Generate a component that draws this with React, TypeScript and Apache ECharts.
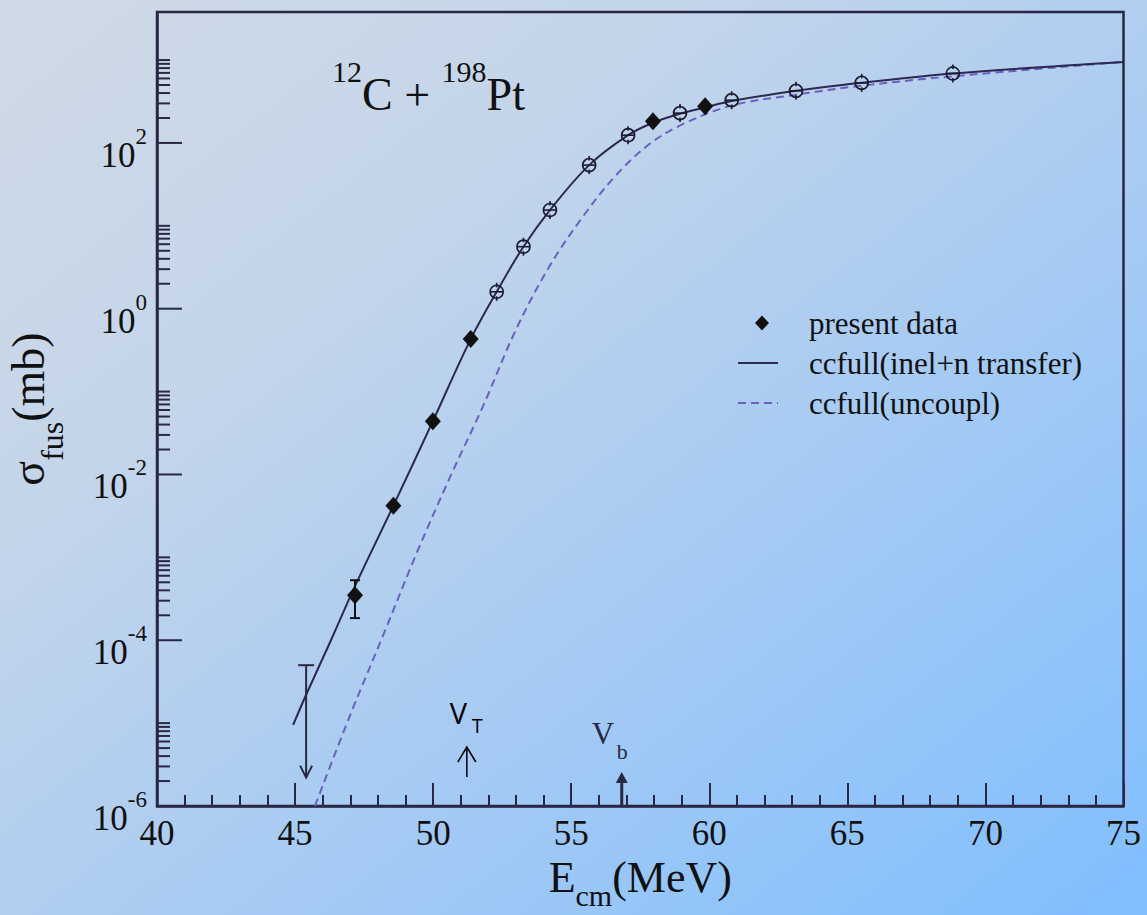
import React, { useEffect, useRef } from 'react';
import * as echarts from 'echarts';

// ---------- axes ----------
const X_MIN = 40;
const X_MAX = 75;
const X_INTERVAL = 5;
const Y_MIN = 1e-6;
const Y_MAX = 3800;
const Y_LABEL_EXPONENTS = [-6, -4, -2, 0, 2];
const Y_MINOR_MULTIPLIERS = [2, 3, 4, 5, 6, 7, 8, 9, 10];

// ---------- curves ----------
const coupledE = [44.93, 45.4, 46.3, 47.17, 48.56, 49.99, 51.36, 52.3, 53.27, 54.23, 55.65, 57.06, 57.96, 58.94, 59.85, 60.81, 63.14, 65.52, 68.82, 75.0];
const coupledSigma = [9.5e-6, 2.2e-5, 1.0e-4, 4.5e-4, 4.2e-3, 0.044, 0.43, 1.6, 5.6, 15.5, 54, 124, 175, 225, 268, 320, 425, 531, 689, 950];

const uncoupledE = [45.72, 47.0, 48.3, 49.4, 50.6, 51.8, 53.0, 54.2, 55.4, 56.6, 57.8, 59.0, 60.8, 63.1, 65.5, 68.7, 75.0];
const uncoupledSigma = [1e-6, 1.26e-5, 1.41e-4, 1.12e-3, 9.1e-3, 0.066, 0.56, 3.2, 12.6, 40, 95, 166, 282, 380, 490, 631, 955];

// ---------- measured points ----------
const presentE = [47.17, 48.56, 49.99, 51.36, 57.96, 59.85];
const presentSigma = [3.5e-4, 4.2e-3, 0.044, 0.43, 183, 278];

const otherE = [52.3, 53.27, 54.23, 55.65, 57.06, 58.94, 60.81, 63.14, 65.52, 68.82];
const otherSigma = [1.6, 5.6, 15.5, 54, 124, 229, 328, 425, 531, 689];

const errorBarE = [47.17];
const errorBarLow = [1.85e-4];
const errorBarHigh = [5.3e-4];

const upperLimitE = [45.4];
const upperLimitTop = [5.0e-5];
const upperLimitTip = [2.2e-6];

// ---------- annotations ----------
const V_T_E = 51.22;
const V_T_ARROW = [2.24e-6, 5.15e-6];
const V_B_E = 56.83;
const V_B_ARROW_TIP = 2.57e-6;

const SERIF = '"Liberation Serif", "Times New Roman", serif';
const SANS = '"Open Sans", "Liberation Sans", sans-serif';
const FRAME = '#2a2745';
const SOLID = '#2d2850';
const DASHED = '#6b5fc0';
const INK = '#111111';

const zip = (a: number[], b: number[]) => a.map((v, i) => [v, b[i]]);

export default function App() {
  const ref = useRef<HTMLDivElement>(null);

  useEffect(() => {
    const chart = echarts.init(ref.current!, null, { renderer: 'svg' });

    const yTicks: number[][] = [];
    Y_LABEL_EXPONENTS.forEach((e) => {
      yTicks.push([X_MIN, Math.pow(10, e), 25]);
      Y_MINOR_MULTIPLIERS.forEach((m) => {
        const v = m * Math.pow(10, e);
        if (v <= Y_MAX) yTicks.push([X_MIN, v, 13]);
      });
    });

    const option: any = {
      animation: false,
      backgroundColor: new echarts.graphic.LinearGradient(0, 0, 1, 1, [
        { offset: 0, color: '#d0dae6' },
        { offset: 0.3, color: '#c4d5ea' },
        { offset: 1, color: '#80beff' },
      ]),
      grid: {
        left: 157,
        right: 23.5,
        top: 12,
        bottom: 109,
        containLabel: false,
        outerBoundsMode: 'none',
        show: true,
        borderColor: FRAME,
        borderWidth: 2.5,
        backgroundColor: 'transparent',
      },
      legend: {
        orient: 'vertical',
        left: 737,
        top: 307,
        padding: 0,
        itemGap: 8,
        itemWidth: 40,
        itemHeight: 15,
        selectedMode: false,
        data: [
          { name: 'present data', icon: 'path://M0,7.5L0,7.5M40,7.5L40,7.5M24,0L31,7.5L24,15L17,7.5Z' },
          { name: 'ccfull(inel+n transfer)', itemStyle: { opacity: 0 } },
          { name: 'ccfull(uncoupl)', itemStyle: { opacity: 0 } },
        ],
        textStyle: { fontFamily: SERIF, fontSize: 31, color: INK, lineHeight: 32, padding: [0, 0, 0, 26] },
      },
      xAxis: {
        type: 'value',
        min: X_MIN,
        max: X_MAX,
        interval: X_INTERVAL,
        splitLine: { show: false },
        axisLine: { show: true, lineStyle: { color: FRAME, width: 2.5 } },
        axisTick: { show: true, inside: true, length: 23, lineStyle: { color: FRAME, width: 2 } },
        minorTick: { show: true, splitNumber: 5, length: 11, lineStyle: { color: FRAME, width: 2 } },
        axisLabel: { fontFamily: SERIF, fontSize: 35, color: INK, margin: 10, lineHeight: 34 },
        name: '{m|E}{s|cm}{m|(MeV)}',
        nameLocation: 'middle',
        nameGap: 46,
        nameMoveOverlap: false,
        nameTextStyle: {
          rich: {
            m: { fontFamily: SERIF, fontSize: 44, lineHeight: 50, color: INK },
            s: { fontFamily: SERIF, fontSize: 30, lineHeight: 50, color: INK, padding: [36, 0, 0, 0] },
          },
        },
      },
      yAxis: {
        type: 'log',
        logBase: 10,
        min: Y_MIN,
        max: Y_MAX,
        splitLine: { show: false },
        axisLine: { show: true, lineStyle: { color: FRAME, width: 2.5 } },
        axisTick: { show: false },
        minorTick: { show: false },
        axisLabel: {
          margin: 10,
          formatter: (v: number) => {
            const l = Math.log10(v);
            const e = Math.round(l);
            if (Math.abs(l - e) > 1e-6 || !Y_LABEL_EXPONENTS.includes(e)) return '';
            return `{b|10}{e|${e}}`;
          },
          rich: {
            b: { fontFamily: SERIF, fontSize: 35, lineHeight: 40, color: INK, padding: [25, 0, 0, 0] },
            e: { fontFamily: SERIF, fontSize: 23, lineHeight: 40, color: INK, padding: [0, 0, 13, 0] },
          },
        },
        name: '{m|σ}{s|fus}{m|(mb)}',
        nameLocation: 'middle',
        nameGap: 101,
        nameMoveOverlap: false,
        nameTextStyle: {
          rich: {
            m: { fontFamily: SERIF, fontSize: 46, lineHeight: 56, color: INK },
            s: { fontFamily: SERIF, fontSize: 32, lineHeight: 56, color: INK, padding: [47, 0, 0, 0] },
          },
        },
      },
      graphic: [
        {
          type: 'text',
          x: 332,
          y: 94.5,
          style: {
            text: '{s|12}{m|C + }{s|198}{m|Pt}',
            align: 'left',
            verticalAlign: 'middle',
            rich: {
              m: { font: `46px ${SERIF}`, lineHeight: 50, fill: INK },
              s: { font: `30px ${SERIF}`, lineHeight: 50, fill: INK, padding: [0, 0, 47, 0] },
            },
          },
        },
      ],
      series: [
        {
          name: 'ccfull(inel+n transfer)',
          type: 'line',
          data: zip(coupledE, coupledSigma),
          symbol: 'none',
          smooth: 0.35,
          lineStyle: { color: SOLID, width: 2 },
          itemStyle: { color: SOLID },
          z: 3,
        },
        {
          name: 'ccfull(uncoupl)',
          type: 'line',
          data: zip(uncoupledE, uncoupledSigma),
          symbol: 'none',
          smooth: 0.35,
          lineStyle: { color: DASHED, width: 2, type: [8, 5] },
          itemStyle: { color: DASHED },
          z: 2,
        },
        {
          name: 'present data',
          type: 'scatter',
          data: zip(presentE, presentSigma),
          symbol: 'diamond',
          symbolSize: [16, 18],
          itemStyle: { color: INK, opacity: 1 },
          z: 6,
        },
        {
          name: 'other data',
          type: 'custom',
          data: zip(otherE, otherSigma),
          encode: { x: 0, y: 1 },
          z: 5,
          renderItem: (_p: any, api: any) => {
            const c = api.coord([api.value(0), api.value(1)]);
            const r = 6.5;
            const st = { stroke: '#1c1b2e', lineWidth: 1.6, fill: 'none' };
            return {
              type: 'group',
              children: [
                { type: 'circle', shape: { cx: c[0], cy: c[1], r }, style: { ...st, fill: 'rgba(0,0,0,0)' } },
                { type: 'line', shape: { x1: c[0] - r, y1: c[1], x2: c[0] + r, y2: c[1] }, style: st },
                { type: 'line', shape: { x1: c[0], y1: c[1] - r - 2.5, x2: c[0], y2: c[1] - r + 2 }, style: st },
                { type: 'line', shape: { x1: c[0], y1: c[1] + r - 2, x2: c[0], y2: c[1] + r + 2.5 }, style: st },
              ],
            };
          },
        },
        {
          name: 'error bars',
          type: 'custom',
          data: errorBarE.map((e, i) => [e, errorBarLow[i], errorBarHigh[i]]),
          encode: { x: 0, y: [1, 2] },
          z: 5,
          renderItem: (_p: any, api: any) => {
            const lo = api.coord([api.value(0), api.value(1)]);
            const hi = api.coord([api.value(0), api.value(2)]);
            const st = { stroke: INK, lineWidth: 2 };
            return {
              type: 'group',
              children: [
                { type: 'line', shape: { x1: lo[0], y1: lo[1], x2: hi[0], y2: hi[1] }, style: st },
                { type: 'line', shape: { x1: lo[0] - 5, y1: lo[1], x2: lo[0] + 5, y2: lo[1] }, style: st },
                { type: 'line', shape: { x1: hi[0] - 5, y1: hi[1], x2: hi[0] + 5, y2: hi[1] }, style: st },
              ],
            };
          },
        },
        {
          name: 'upper limit',
          type: 'custom',
          data: upperLimitE.map((e, i) => [e, upperLimitTop[i], upperLimitTip[i]]),
          encode: { x: 0, y: [1, 2] },
          z: 5,
          renderItem: (_p: any, api: any) => {
            const top = api.coord([api.value(0), api.value(1)]);
            const tip = api.coord([api.value(0), api.value(2)]);
            const st = { stroke: '#2a2840', lineWidth: 2, fill: 'none' };
            return {
              type: 'group',
              children: [
                { type: 'line', shape: { x1: top[0], y1: top[1], x2: tip[0], y2: tip[1] }, style: st },
                { type: 'line', shape: { x1: top[0] - 8, y1: top[1], x2: top[0] + 8, y2: top[1] }, style: st },
                { type: 'polyline', shape: { points: [[tip[0] - 6, tip[1] - 12], [tip[0], tip[1]], [tip[0] + 6, tip[1] - 12]] }, style: st },
              ],
            };
          },
        },
        {
          name: 'y ticks',
          type: 'custom',
          data: yTicks,
          encode: { x: 0, y: 1 },
          z: 4,
          silent: true,
          renderItem: (_p: any, api: any) => {
            const c = api.coord([api.value(0), api.value(1)]);
            const len = api.value(2);
            return {
              type: 'line',
              shape: { x1: c[0], y1: c[1], x2: c[0] + len, y2: c[1] },
              style: { stroke: FRAME, lineWidth: 2 },
            };
          },
        },
        {
          name: 'annotations',
          type: 'custom',
          data: [
            [V_T_E, V_T_ARROW[0], V_T_ARROW[1], 0],
            [V_B_E, Y_MIN, V_B_ARROW_TIP, 1],
          ],
          encode: { x: 0, y: [1, 2] },
          z: 5,
          silent: true,
          renderItem: (_p: any, api: any) => {
            const base = api.coord([api.value(0), api.value(1)]);
            const tip = api.coord([api.value(0), api.value(2)]);
            const kind = api.value(3);
            if (kind === 0) {
              const st = { stroke: '#000', lineWidth: 1.5, fill: 'none' };
              return {
                type: 'group',
                children: [
                  { type: 'line', shape: { x1: base[0], y1: base[1], x2: tip[0], y2: tip[1] }, style: st },
                  { type: 'polyline', shape: { points: [[tip[0] - 9, tip[1] + 15], [tip[0], tip[1]], [tip[0] + 9, tip[1] + 15]] }, style: st },
                  { type: 'text', style: { text: 'V', x: tip[0] - 17, y: tip[1] - 35, font: `29px ${SANS}`, fill: '#000', align: 'left', verticalAlign: 'middle' } },
                  { type: 'text', style: { text: 'T', x: tip[0] + 5, y: tip[1] - 22, font: `20px ${SANS}`, fill: '#000', align: 'left', verticalAlign: 'middle' } },
                ],
              };
            }
            const st = { stroke: '#2a2840', lineWidth: 3, fill: 'none' };
            return {
              type: 'group',
              children: [
                { type: 'line', shape: { x1: base[0], y1: base[1], x2: tip[0], y2: tip[1] + 8 }, style: st },
                { type: 'polygon', shape: { points: [[tip[0] - 6, tip[1] + 11], [tip[0], tip[1]], [tip[0] + 6, tip[1] + 11]] }, style: { fill: '#2a2840' } },
                { type: 'text', style: { text: 'V', x: tip[0] - 30, y: tip[1] - 39, font: `31px ${SERIF}`, fill: '#2a2840', align: 'left', verticalAlign: 'middle' } },
                { type: 'text', style: { text: 'b', x: tip[0] - 5, y: tip[1] - 21, font: `22px ${SERIF}`, fill: '#2a2840', align: 'left', verticalAlign: 'middle' } },
              ],
            };
          },
        },
      ],
    };

    chart.setOption(option);
    return () => chart.dispose();
  }, []);

  return <div ref={ref} style={{ position: 'fixed', left: 0, top: 0, width: 1147, height: 915 }} />;
}
